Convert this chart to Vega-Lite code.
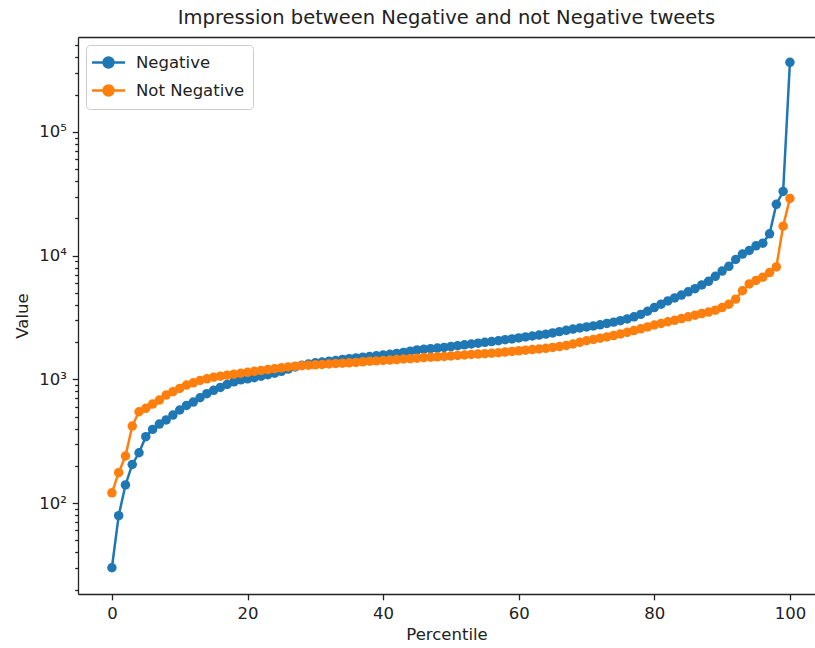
{
  "$schema": "https://vega.github.io/schema/vega-lite/v6.json",
  "autosize": "none",
  "width": 737,
  "height": 557,
  "padding": {"left": 78, "top": 37, "right": 0, "bottom": 54},
  "background": "white",
  "title": {"text": "Impression between Negative and not Negative tweets", "font": "DejaVu Sans", "fontSize": 19.5, "fontWeight": "normal", "color": "#222", "anchor": "middle", "offset": 9},
  "config": {
    "view": {"stroke": null},
    "axis": {"grid": false, "domainColor": "#222", "tickColor": "#222", "labelColor": "#222", "titleColor": "#222", "labelFont": "DejaVu Sans", "titleFont": "DejaVu Sans", "labelFontSize": 16.5, "titleFontSize": 16.5, "titleFontWeight": "normal", "domainWidth": 1.3, "tickWidth": 1.3}
  },
  "datasets": {
    "d": [
      {"p":0,"v":30,"s":"Negative"},{"p":1,"v":79,"s":"Negative"},{"p":2,"v":140,"s":"Negative"},{"p":3,"v":205,"s":"Negative"},{"p":4,"v":255,"s":"Negative"},{"p":5,"v":344,"s":"Negative"},{"p":6,"v":394,"s":"Negative"},{"p":7,"v":435,"s":"Negative"},{"p":8,"v":470,"s":"Negative"},{"p":9,"v":514,"s":"Negative"},{"p":10,"v":565,"s":"Negative"},{"p":11,"v":615,"s":"Negative"},{"p":12,"v":655,"s":"Negative"},{"p":13,"v":710,"s":"Negative"},{"p":14,"v":765,"s":"Negative"},{"p":15,"v":815,"s":"Negative"},{"p":16,"v":860,"s":"Negative"},{"p":17,"v":910,"s":"Negative"},{"p":18,"v":955,"s":"Negative"},{"p":19,"v":990,"s":"Negative"},{"p":20,"v":1010,"s":"Negative"},{"p":21,"v":1030,"s":"Negative"},{"p":22,"v":1060,"s":"Negative"},{"p":23,"v":1090,"s":"Negative"},{"p":24,"v":1120,"s":"Negative"},{"p":25,"v":1160,"s":"Negative"},{"p":26,"v":1210,"s":"Negative"},{"p":27,"v":1260,"s":"Negative"},{"p":28,"v":1300,"s":"Negative"},{"p":29,"v":1330,"s":"Negative"},{"p":30,"v":1360,"s":"Negative"},{"p":31,"v":1380,"s":"Negative"},{"p":32,"v":1400,"s":"Negative"},{"p":33,"v":1420,"s":"Negative"},{"p":34,"v":1450,"s":"Negative"},{"p":35,"v":1470,"s":"Negative"},{"p":36,"v":1490,"s":"Negative"},{"p":37,"v":1510,"s":"Negative"},{"p":38,"v":1530,"s":"Negative"},{"p":39,"v":1550,"s":"Negative"},{"p":40,"v":1570,"s":"Negative"},{"p":41,"v":1595,"s":"Negative"},{"p":42,"v":1620,"s":"Negative"},{"p":43,"v":1650,"s":"Negative"},{"p":44,"v":1690,"s":"Negative"},{"p":45,"v":1730,"s":"Negative"},{"p":46,"v":1750,"s":"Negative"},{"p":47,"v":1770,"s":"Negative"},{"p":48,"v":1790,"s":"Negative"},{"p":49,"v":1810,"s":"Negative"},{"p":50,"v":1840,"s":"Negative"},{"p":51,"v":1870,"s":"Negative"},{"p":52,"v":1900,"s":"Negative"},{"p":53,"v":1930,"s":"Negative"},{"p":54,"v":1960,"s":"Negative"},{"p":55,"v":1990,"s":"Negative"},{"p":56,"v":2020,"s":"Negative"},{"p":57,"v":2050,"s":"Negative"},{"p":58,"v":2090,"s":"Negative"},{"p":59,"v":2120,"s":"Negative"},{"p":60,"v":2160,"s":"Negative"},{"p":61,"v":2200,"s":"Negative"},{"p":62,"v":2240,"s":"Negative"},{"p":63,"v":2280,"s":"Negative"},{"p":64,"v":2320,"s":"Negative"},{"p":65,"v":2370,"s":"Negative"},{"p":66,"v":2430,"s":"Negative"},{"p":67,"v":2490,"s":"Negative"},{"p":68,"v":2550,"s":"Negative"},{"p":69,"v":2600,"s":"Negative"},{"p":70,"v":2650,"s":"Negative"},{"p":71,"v":2700,"s":"Negative"},{"p":72,"v":2760,"s":"Negative"},{"p":73,"v":2830,"s":"Negative"},{"p":74,"v":2900,"s":"Negative"},{"p":75,"v":2980,"s":"Negative"},{"p":76,"v":3080,"s":"Negative"},{"p":77,"v":3200,"s":"Negative"},{"p":78,"v":3350,"s":"Negative"},{"p":79,"v":3550,"s":"Negative"},{"p":80,"v":3800,"s":"Negative"},{"p":81,"v":4050,"s":"Negative"},{"p":82,"v":4300,"s":"Negative"},{"p":83,"v":4550,"s":"Negative"},{"p":84,"v":4800,"s":"Negative"},{"p":85,"v":5100,"s":"Negative"},{"p":86,"v":5400,"s":"Negative"},{"p":87,"v":5800,"s":"Negative"},{"p":88,"v":6200,"s":"Negative"},{"p":89,"v":6800,"s":"Negative"},{"p":90,"v":7500,"s":"Negative"},{"p":91,"v":8200,"s":"Negative"},{"p":92,"v":9300,"s":"Negative"},{"p":93,"v":10300,"s":"Negative"},{"p":94,"v":11000,"s":"Negative"},{"p":95,"v":12000,"s":"Negative"},{"p":96,"v":12600,"s":"Negative"},{"p":97,"v":15000,"s":"Negative"},{"p":98,"v":26000,"s":"Negative"},{"p":99,"v":33000,"s":"Negative"},{"p":100,"v":365000,"s":"Negative"},
      {"p":0,"v":121,"s":"Not Negative"},{"p":1,"v":176,"s":"Not Negative"},{"p":2,"v":240,"s":"Not Negative"},{"p":3,"v":419,"s":"Not Negative"},{"p":4,"v":547,"s":"Not Negative"},{"p":5,"v":583,"s":"Not Negative"},{"p":6,"v":631,"s":"Not Negative"},{"p":7,"v":680,"s":"Not Negative"},{"p":8,"v":746,"s":"Not Negative"},{"p":9,"v":794,"s":"Not Negative"},{"p":10,"v":844,"s":"Not Negative"},{"p":11,"v":899,"s":"Not Negative"},{"p":12,"v":938,"s":"Not Negative"},{"p":13,"v":980,"s":"Not Negative"},{"p":14,"v":1010,"s":"Not Negative"},{"p":15,"v":1040,"s":"Not Negative"},{"p":16,"v":1060,"s":"Not Negative"},{"p":17,"v":1080,"s":"Not Negative"},{"p":18,"v":1100,"s":"Not Negative"},{"p":19,"v":1120,"s":"Not Negative"},{"p":20,"v":1140,"s":"Not Negative"},{"p":21,"v":1160,"s":"Not Negative"},{"p":22,"v":1180,"s":"Not Negative"},{"p":23,"v":1200,"s":"Not Negative"},{"p":24,"v":1220,"s":"Not Negative"},{"p":25,"v":1240,"s":"Not Negative"},{"p":26,"v":1260,"s":"Not Negative"},{"p":27,"v":1275,"s":"Not Negative"},{"p":28,"v":1290,"s":"Not Negative"},{"p":29,"v":1300,"s":"Not Negative"},{"p":30,"v":1310,"s":"Not Negative"},{"p":31,"v":1320,"s":"Not Negative"},{"p":32,"v":1330,"s":"Not Negative"},{"p":33,"v":1340,"s":"Not Negative"},{"p":34,"v":1350,"s":"Not Negative"},{"p":35,"v":1360,"s":"Not Negative"},{"p":36,"v":1370,"s":"Not Negative"},{"p":37,"v":1385,"s":"Not Negative"},{"p":38,"v":1400,"s":"Not Negative"},{"p":39,"v":1410,"s":"Not Negative"},{"p":40,"v":1420,"s":"Not Negative"},{"p":41,"v":1430,"s":"Not Negative"},{"p":42,"v":1445,"s":"Not Negative"},{"p":43,"v":1460,"s":"Not Negative"},{"p":44,"v":1470,"s":"Not Negative"},{"p":45,"v":1480,"s":"Not Negative"},{"p":46,"v":1500,"s":"Not Negative"},{"p":47,"v":1510,"s":"Not Negative"},{"p":48,"v":1520,"s":"Not Negative"},{"p":49,"v":1530,"s":"Not Negative"},{"p":50,"v":1545,"s":"Not Negative"},{"p":51,"v":1560,"s":"Not Negative"},{"p":52,"v":1575,"s":"Not Negative"},{"p":53,"v":1590,"s":"Not Negative"},{"p":54,"v":1600,"s":"Not Negative"},{"p":55,"v":1610,"s":"Not Negative"},{"p":56,"v":1625,"s":"Not Negative"},{"p":57,"v":1640,"s":"Not Negative"},{"p":58,"v":1660,"s":"Not Negative"},{"p":59,"v":1680,"s":"Not Negative"},{"p":60,"v":1700,"s":"Not Negative"},{"p":61,"v":1720,"s":"Not Negative"},{"p":62,"v":1740,"s":"Not Negative"},{"p":63,"v":1760,"s":"Not Negative"},{"p":64,"v":1780,"s":"Not Negative"},{"p":65,"v":1810,"s":"Not Negative"},{"p":66,"v":1840,"s":"Not Negative"},{"p":67,"v":1880,"s":"Not Negative"},{"p":68,"v":1930,"s":"Not Negative"},{"p":69,"v":1990,"s":"Not Negative"},{"p":70,"v":2050,"s":"Not Negative"},{"p":71,"v":2100,"s":"Not Negative"},{"p":72,"v":2150,"s":"Not Negative"},{"p":73,"v":2200,"s":"Not Negative"},{"p":74,"v":2260,"s":"Not Negative"},{"p":75,"v":2330,"s":"Not Negative"},{"p":76,"v":2400,"s":"Not Negative"},{"p":77,"v":2480,"s":"Not Negative"},{"p":78,"v":2560,"s":"Not Negative"},{"p":79,"v":2650,"s":"Not Negative"},{"p":80,"v":2750,"s":"Not Negative"},{"p":81,"v":2830,"s":"Not Negative"},{"p":82,"v":2920,"s":"Not Negative"},{"p":83,"v":3000,"s":"Not Negative"},{"p":84,"v":3100,"s":"Not Negative"},{"p":85,"v":3200,"s":"Not Negative"},{"p":86,"v":3300,"s":"Not Negative"},{"p":87,"v":3400,"s":"Not Negative"},{"p":88,"v":3500,"s":"Not Negative"},{"p":89,"v":3620,"s":"Not Negative"},{"p":90,"v":3800,"s":"Not Negative"},{"p":91,"v":4050,"s":"Not Negative"},{"p":92,"v":4450,"s":"Not Negative"},{"p":93,"v":5200,"s":"Not Negative"},{"p":94,"v":5900,"s":"Not Negative"},{"p":95,"v":6300,"s":"Not Negative"},{"p":96,"v":6700,"s":"Not Negative"},{"p":97,"v":7300,"s":"Not Negative"},{"p":98,"v":8100,"s":"Not Negative"},{"p":99,"v":17300,"s":"Not Negative"},{"p":100,"v":29000,"s":"Not Negative"}
    ]
  },
  "data": {"name": "d"},
  "encoding": {
    "y": {"field": "v", "type": "quantitative", "title": "Value",
      "scale": {"type": "log", "domain": [18.4, 585000], "nice": false},
      "axis": {
        "values": [20,30,40,50,60,70,80,90,100,200,300,400,500,600,700,800,900,1000,2000,3000,4000,5000,6000,7000,8000,9000,10000,20000,30000,40000,50000,60000,70000,80000,90000,100000,200000,300000,400000,500000],
        "labelExpr": "datum.value == 100 ? '10²' : datum.value == 1000 ? '10³' : datum.value == 10000 ? '10⁴' : datum.value == 100000 ? '10⁵' : ''",
        "tickSize": {"condition": {"test": "indexof([100,1000,10000,100000], datum.value) >= 0", "value": 5.8}, "value": 3.3},
        "labelPadding": 5.8, "titlePadding": 8, "labelOverlap": false, "labelBound": false}
    },
    "color": {"field": "s", "type": "nominal",
      "scale": {"domain": ["Negative", "Not Negative"], "range": ["#1f77b4", "#ff7f0e"]},
      "legend": {"title": null, "orient": "none", "legendX": 8, "legendY": 8,
        "symbolType": "M-2.06,0L2.06,0M-0.62,0A0.62,0.62,0,1,1,0.62,0A0.62,0.62,0,1,1,-0.62,0Z",
        "symbolSize": 256, "symbolStrokeWidth": 2.5, "symbolOffset": 5, "labelFont": "DejaVu Sans", "labelFontSize": 16.5, "labelColor": "#222",
        "labelOffset": 18, "rowPadding": 7, "padding": 8, "fillColor": "rgba(255,255,255,0.8)", "strokeColor": "#cccccc", "cornerRadius": 4,
        "encode": {"symbols": {"update": {"stroke": {"scale": "color", "field": "value"}, "fill": {"scale": "color", "field": "value"}, "strokeWidth": {"value": 2.5}, "opacity": {"value": 1}}}}}
    }
  },
  "resolve": {"axis": {"x": "independent"}},
  "layer": [
    {"transform": [{"filter": "datum.s == 'Negative'"}], "mark": {"type": "line", "strokeWidth": 2.5},
     "encoding": {"x": {"field": "p", "type": "quantitative", "title": "Percentile",
       "scale": {"domain": [-5, 103.7], "nice": false, "zero": false},
       "axis": {"values": [0, 20, 40, 60, 80, 100], "tickSize": 5.8, "labelPadding": 5.8, "titlePadding": 4}}}},
    {"transform": [{"filter": "datum.s == 'Negative'"}], "mark": {"type": "point", "filled": true, "size": 90, "opacity": 1},
     "encoding": {"x": {"field": "p", "type": "quantitative", "title": null,
       "axis": {"orient": "top", "labels": false, "ticks": false, "domain": true}}}},
    {"transform": [{"filter": "datum.s == 'Not Negative'"}], "mark": {"type": "line", "strokeWidth": 2.5},
     "encoding": {"x": {"field": "p", "type": "quantitative", "axis": null}}},
    {"transform": [{"filter": "datum.s == 'Not Negative'"}], "mark": {"type": "point", "filled": true, "size": 90, "opacity": 1},
     "encoding": {"x": {"field": "p", "type": "quantitative", "axis": null}}}
  ]
}
